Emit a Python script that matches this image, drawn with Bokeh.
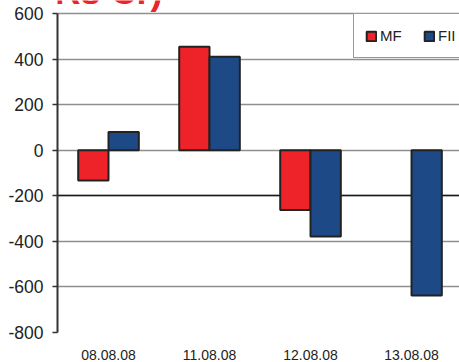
import numpy as np
from bokeh.plotting import figure
from bokeh.models import (ColumnDataSource, Range1d, FixedTicker, Legend, LegendItem,
                          Label, Grid)
from bokeh.transform import dodge
from bokeh.embed import file_html
from bokeh.resources import INLINE

# ---- data ----
categories = ["08.08.08", "11.08.08", "12.08.08", "13.08.08"]
mf = [-133, 454, -262, np.nan]
fii = [80, 410, -379, -638]
y_ticks = [-800, -600, -400, -200, 0, 200, 400, 600]
title_text = "(Rs Cr)"

FONT = "Liberation Sans"
RED = "#ee2229"
BLUE = "#1d4a87"
OUTLINE = "#222222"

src = ColumnDataSource(dict(x=list(range(len(categories))), mf=mf, fii=fii))

p = figure(width=459, height=362, output_backend="svg", toolbar_location=None,
           x_range=Range1d(-0.505, 3.475), y_range=Range1d(-800, 657),
           min_border_left=57, min_border_right=0, min_border_top=0, min_border_bottom=30)
p.outline_line_color = None
p.background_fill_color = "white"
p.border_fill_color = "white"

r_mf = p.vbar(x=dodge("x", -0.15), top="mf", bottom=0, width=0.3, source=src,
              fill_color=RED, line_color=OUTLINE, line_width=2)
r_fii = p.vbar(x=dodge("x", 0.15), top="fii", bottom=0, width=0.3, source=src,
               fill_color=BLUE, line_color=OUTLINE, line_width=2)

# axes
p.xaxis.ticker = FixedTicker(ticks=list(range(len(categories))))
p.xaxis.major_label_overrides = {i: c for i, c in enumerate(categories)}
p.xaxis.axis_line_color = None
p.xaxis.major_tick_line_color = None
p.xaxis.minor_tick_line_color = None
p.xaxis.major_label_standoff = 11
p.xaxis.major_label_text_font = FONT
p.xaxis.major_label_text_font_size = "14px"
p.xaxis.major_label_text_color = "#222222"

p.yaxis.ticker = FixedTicker(ticks=y_ticks)
p.yaxis.bounds = (y_ticks[0], y_ticks[-1])
p.yaxis.major_label_overrides = {v: str(v) for v in y_ticks}
p.yaxis.axis_line_color = "#333333"
p.yaxis.axis_line_width = 2
p.yaxis.major_tick_line_color = "#333333"
p.yaxis.major_tick_line_width = 1.5
p.yaxis.major_tick_out = 5
p.yaxis.major_tick_in = 0
p.yaxis.minor_tick_line_color = None
p.yaxis.major_label_standoff = 9
p.yaxis.major_label_text_font = FONT
p.yaxis.major_label_text_font_size = "17.5px"
p.yaxis.major_label_text_color = "#222222"

p.xgrid.grid_line_color = None
p.ygrid.ticker = FixedTicker(ticks=y_ticks)
p.ygrid.grid_line_color = "#8f8f8f"
p.ygrid.grid_line_width = 1.5
p.ygrid.level = "underlay"

dark = Grid(dimension=1, ticker=FixedTicker(ticks=[-200]),
            grid_line_color="#1a1a1a", grid_line_width=1.5, level="underlay")
p.add_layout(dark)

legend = Legend(items=[LegendItem(label="MF", renderers=[r_mf]),
                       LegendItem(label="FII", renderers=[r_fii])],
                orientation="horizontal", location=(296, 274),
                glyph_width=12, glyph_height=12, label_standoff=3, spacing=14,
                label_width=29, label_height=21,
                padding=11, margin=0,
                label_text_font=FONT, label_text_font_size="15px",
                label_text_color="#222222",
                border_line_color="#333333", border_line_width=1.5,
                background_fill_color="white", background_fill_alpha=1)
p.add_layout(legend)

p.add_layout(Label(x=-0.654, y=696, text=title_text, text_color=RED,
                   text_font=FONT, text_font_style="bold", text_font_size="36px",
                   text_baseline="alphabetic", text_align="left", level="overlay"))

open("out.html", "w").write(file_html(p, INLINE))
